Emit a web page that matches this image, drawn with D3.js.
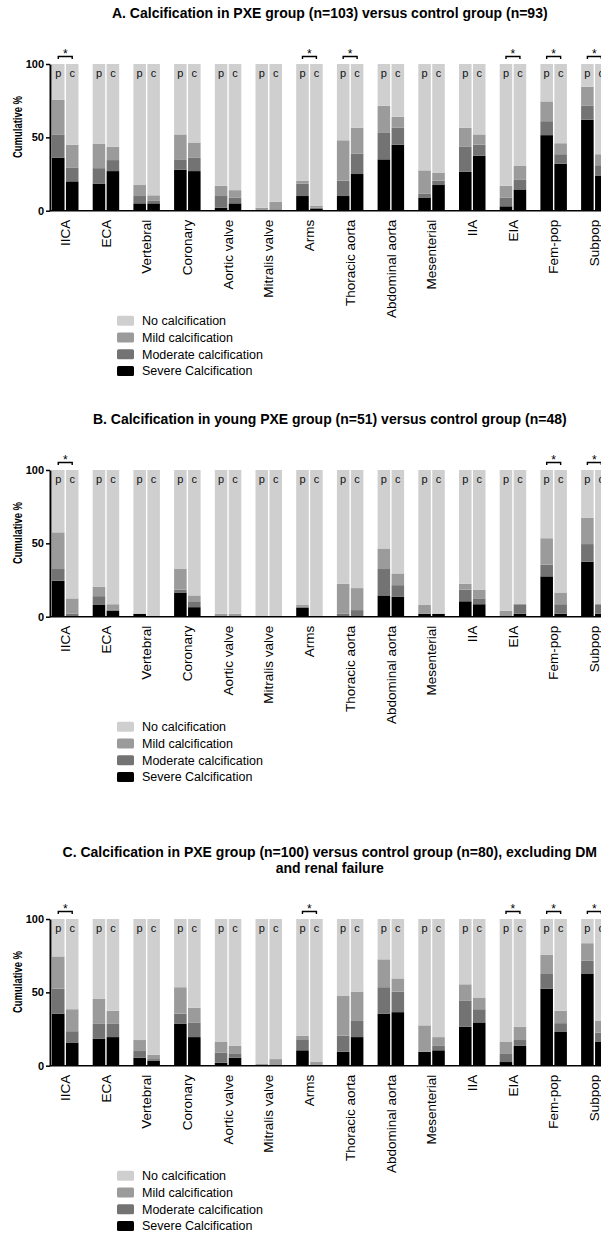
<!DOCTYPE html>
<html>
<head>
<meta charset="utf-8">
<script src="https://cdn.jsdelivr.net/npm/d3@7"></script>
<style>
  body { margin: 0; background: #fff; }
  svg { display: block; font-family: "Liberation Sans", Arial, sans-serif; }
</style>
</head>
<body>
<div id="chart"></div>
<script>
// categories (arteries / valves)
var categories = ["IICA", "ECA", "Vertebral", "Coronary", "Aortic valve", "Mitralis valve", "Arms",
  "Thoracic aorta", "Abdominal aorta", "Mesenterial", "IIA", "EIA", "Fem-pop", "Subpop"];
var groups = ["p", "c"];
var legendLabels = ["No calcification", "Mild calcification", "Moderate calcification", "Severe Calcification"];
var yTicks = [0, 50, 100];

// A. PXE (n=103) vs control (n=93) - % per grade
var aPxeSevere   = [36, 18.5, 5, 28, 2, 0, 10, 10, 35, 9, 26.5, 3, 51.5, 62];
var aPxeModerate = [16, 10.5, 5, 7, 8, 0, 8.5, 10.5, 18, 2.5, 17, 6, 9.5, 9.5];
var aPxeMild     = [23.5, 16.5, 7.5, 17, 7, 2, 2, 27.5, 18.5, 16, 13, 8, 13.5, 13];
var aCtrlSevere   = [20, 27, 5, 27, 5, 0, 1.5, 25, 45, 17.5, 37.5, 14.5, 32, 24];
var aCtrlModerate = [9.5, 7.5, 2, 9, 4, 1, 0.5, 14, 11.5, 3, 7.5, 6.5, 6.5, 7];
var aCtrlMild     = [15.5, 9, 3.5, 10.5, 5, 5, 1.5, 17.5, 7.5, 5.5, 7, 9.5, 7.5, 7.5];
var aSignificant = ["IICA", "Arms", "Thoracic aorta", "EIA", "Fem-pop", "Subpop"];

// B. young PXE (n=51) vs control (n=48)
var bPxeSevere   = [24.5, 8, 2, 16.5, 0, 0, 6, 0, 14.5, 2, 10.5, 0, 27.5, 37.5];
var bPxeModerate = [8, 6, 0, 2, 0, 0, 1, 2, 18, 0, 8, 0, 8, 12];
var bPxeMild     = [25, 6.5, 0, 14, 2, 0, 1, 20.5, 14, 6, 4, 4, 18, 18];
var bCtrlSevere   = [0, 4, 0, 6.5, 0, 0, 0, 0, 13.5, 2, 8.5, 2, 2, 2];
var bCtrlModerate = [2, 1, 0, 4, 0, 0, 0, 4.5, 8, 0, 4, 6.5, 6.5, 6.5];
var bCtrlMild     = [10.5, 3.5, 0, 4, 2, 0, 0, 15, 8, 0, 6, 0, 8, 0];
var bSignificant = ["IICA", "Fem-pop", "Subpop"];

// C. PXE (n=100) vs control (n=80), excluding DM and renal failure
var cPxeSevere   = [35.5, 18.5, 5.5, 28.5, 2, 0, 10.5, 9.5, 35.5, 9.5, 26.5, 2.5, 52.5, 62.5];
var cPxeModerate = [17, 10, 4.5, 7, 7, 0, 7.5, 11, 18, 0, 18, 5.5, 10, 9];
var cPxeMild     = [22, 17, 7.5, 18, 7.5, 1.5, 2.5, 27, 19, 18, 11, 8.5, 13, 12];
var cCtrlSevere   = [15.5, 19.5, 3.5, 19.5, 5.5, 0, 0, 19.5, 36.5, 10.5, 29.5, 13.5, 23, 16.5];
var cCtrlModerate = [8, 9, 1, 10, 2.5, 0, 0.5, 11, 14, 3, 9, 4, 6, 6];
var cCtrlMild     = [15, 9, 3, 10, 5.5, 4.5, 2, 20, 9, 6, 8, 9, 8.5, 8];
var cSignificant = ["IICA", "Arms", "EIA", "Fem-pop", "Subpop"];

var colors = {none: "#cfcfcf", mild: "#9b9b9b", moderate: "#737373", severe: "#000000"};
var legendColors = [colors.none, colors.mild, colors.moderate, colors.severe];

var width = 601, height = 1234;
var svg = d3.select("#chart").append("svg")
  .attr("width", width)
  .attr("height", height);

var panels = [
  {
    title: ["A. Calcification in PXE group (n=103) versus control group (n=93)"],
    top: 64,
    p: [aPxeSevere, aPxeModerate, aPxeMild],
    c: [aCtrlSevere, aCtrlModerate, aCtrlMild],
    sig: aSignificant
  },
  {
    title: ["B. Calcification in young PXE group (n=51) versus control group (n=48)"],
    top: 470,
    p: [bPxeSevere, bPxeModerate, bPxeMild],
    c: [bCtrlSevere, bCtrlModerate, bCtrlMild],
    sig: bSignificant
  },
  {
    title: ["C. Calcification in PXE group (n=100) versus control group (n=80), excluding DM",
      "and renal failure"],
    top: 919,
    p: [cPxeSevere, cPxeModerate, cPxeMild],
    c: [cCtrlSevere, cCtrlModerate, cCtrlMild],
    sig: cSignificant
  }
];

var plotH = 146.7;
var left = 50, right = 609.6;

var x = d3.scaleBand()
  .domain(categories)
  .range([left, right])
  .paddingInner(0.349)
  .paddingOuter(0.049);

var xSub = d3.scaleBand()
  .domain(groups)
  .range([0, x.bandwidth()])
  .paddingInner(0.1);

var stack = d3.stack().keys(["severe", "moderate", "mild", "none"]);

panels.forEach(function (panel) {
  var g = svg.append("g");
  var y = d3.scaleLinear().domain([0, 100]).range([panel.top + plotH, panel.top]);

  // title
  panel.title.forEach(function (line, i) {
    g.append("text")
      .attr("x", (left + right) / 2)
      .attr("y", panel.top - 46 - (panel.title.length - 1 - i) * 16)
      .attr("text-anchor", "middle")
      .style("font-size", "14px")
      .style("font-weight", "bold")
      .text(line);
  });

  // rows for stack
  var rows = [];
  categories.forEach(function (cat, i) {
    groups.forEach(function (grp) {
      var s = panel[grp][0][i], m = panel[grp][1][i], l = panel[grp][2][i];
      rows.push({cat: cat, grp: grp, severe: s, moderate: m, mild: l, none: 100 - s - m - l});
    });
  });
  var series = stack(rows);

  g.selectAll("g.layer")
    .data(series)
    .enter()
    .append("g")
    .attr("class", "layer")
    .attr("fill", function (d) { return colors[d.key]; })
    .selectAll("rect")
    .data(function (d) { return d; })
    .enter()
    .append("rect")
    .attr("x", function (d) { return x(d.data.cat) + xSub(d.data.grp); })
    .attr("width", xSub.bandwidth())
    .attr("y", function (d) { return y(d[1]); })
    .attr("height", function (d) { return Math.max(0, y(d[0]) - y(d[1])); });

  // p / c labels in bars
  g.selectAll("text.grp")
    .data(rows)
    .enter()
    .append("text")
    .attr("class", "grp")
    .attr("x", function (d) { return x(d.cat) + xSub(d.grp) + xSub.bandwidth() / 2; })
    .attr("y", y(100) + 13)
    .attr("text-anchor", "middle")
    .style("font-size", "11px")
    .style("fill", "#111")
    .text(function (d) { return d.grp; });

  // significance brackets
  var br = g.selectAll("g.sig")
    .data(panel.sig)
    .enter()
    .append("g")
    .attr("class", "sig");
  br.append("path")
    .attr("d", function (d) {
      var x1 = x(d) + xSub("p") + xSub.bandwidth() / 2;
      var x2 = x(d) + xSub("c") + xSub.bandwidth() / 2;
      var yy = y(100) - 7.5;
      return "M" + x1 + "," + (yy + 2.5) + "V" + yy + "H" + x2 + "V" + (yy + 2.5);
    })
    .attr("fill", "none")
    .attr("stroke", "#000")
    .attr("stroke-width", 1.4);
  br.append("text")
    .attr("x", function (d) { return x(d) + x.bandwidth() / 2; })
    .attr("y", y(100) - 6.5)
    .attr("text-anchor", "middle")
    .style("font-size", "12px")
    .text("*");

  // y axis
  var yAxis = g.append("g")
    .attr("transform", "translate(" + left + ",0)")
    .call(d3.axisLeft(y).tickValues(yTicks).tickSize(4).tickSizeOuter(0).tickPadding(2));
  yAxis.select(".domain").attr("stroke-width", 2);
  yAxis.selectAll(".tick line").attr("stroke-width", 1.5);
  yAxis.selectAll("text")
    .style("font-size", "11px")
    .style("font-weight", "bold")
    .style("font-family", "Liberation Sans, Arial, sans-serif")
    .attr("fill", "#000");

  g.append("text")
    .attr("transform", "translate(22," + (panel.top + 63) + ") rotate(-90)")
    .attr("text-anchor", "middle")
    .attr("textLength", 62)
    .attr("lengthAdjust", "spacingAndGlyphs")
    .style("font-size", "13.5px")
    .style("font-weight", "bold")
    .text("Cumulative %");

  // x axis
  var xAxis = g.append("g")
    .attr("transform", "translate(0," + y(0) + ")")
    .call(d3.axisBottom(x).tickSize(0).tickSizeOuter(0));
  xAxis.select(".domain")
    .attr("d", "M" + left + ",0H" + right)
    .attr("stroke-width", 1.5);
  xAxis.selectAll("text")
    .attr("transform", "rotate(-90)")
    .attr("x", -9)
    .attr("y", 0)
    .attr("dy", "0.35em")
    .attr("text-anchor", "end")
    .style("font-size", "13.5px")
    .style("font-family", "Liberation Sans, Arial, sans-serif")
    .attr("fill", "#000");

  // legend
  var lg = g.append("g")
    .attr("transform", "translate(117," + (y(0) + 110) + ")");
  var item = lg.selectAll("g")
    .data(legendLabels)
    .enter()
    .append("g")
    .attr("transform", function (d, i) { return "translate(0," + i * 16.8 + ")"; });
  item.append("rect")
    .attr("x", 0)
    .attr("y", -5)
    .attr("width", 17)
    .attr("height", 10)
    .attr("rx", 1.5)
    .attr("fill", function (d, i) { return legendColors[i]; });
  item.append("text")
    .attr("x", 25)
    .attr("y", 0)
    .attr("dy", "0.35em")
    .style("font-size", "12.5px")
    .text(function (d) { return d; });
});
</script>
</body>
</html>
